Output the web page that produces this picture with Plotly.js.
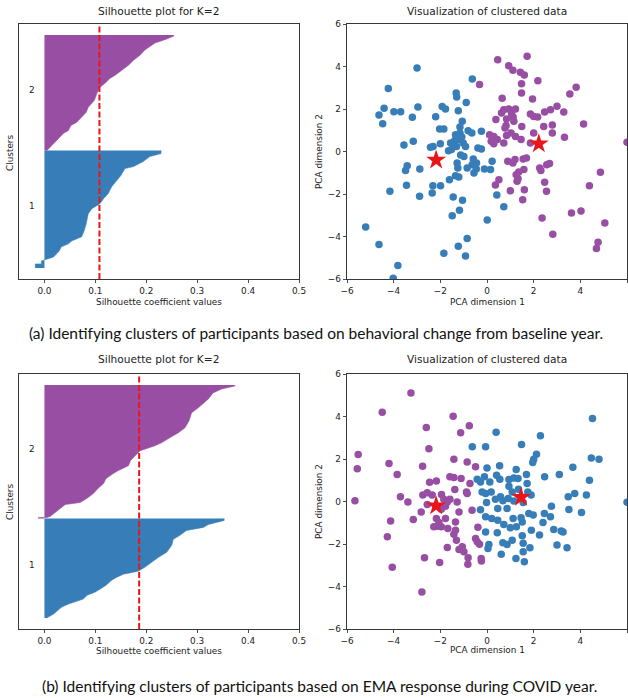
<!DOCTYPE html>
<html>
<head>
<meta charset="utf-8">
<script src="https://cdn.plot.ly/plotly-3.0.1.min.js"></script>
<style>html,body{margin:0;padding:0;background:#fff;}#chart{width:628px;height:698px;}</style>
</head>
<body>
<div id="chart"></div>
<script>
// ---------- Data: panel (a) ----------
// silhouette profiles (sorted): rank within cluster, silhouette value
const silA1_rank  = [0,4,4,7,8,10,11,17,21,24,27,31,37,44,54,59,64,69,74,81,86,92,99,101,106,111,114];
const silA1_value = [-0.018,-0.018,-0.006,-0.006,0.0,0.012,0.018,0.029,0.033,0.047,0.054,0.073,0.078,0.082,0.086,0.093,0.109,0.116,0.125,0.132,0.140,0.150,0.158,0.175,0.194,0.207,0.229];
const silA1_size = 117;
const silA2_rank  = [0,3,8,13,17,20,25,28,33,38,43,50,57,63,67,72,75,80,85,90,95,100,107,111,114];
const silA2_value = [0.005,0.011,0.021,0.029,0.037,0.047,0.052,0.063,0.073,0.082,0.086,0.098,0.103,0.109,0.119,0.129,0.139,0.152,0.165,0.175,0.188,0.197,0.217,0.240,0.254];
const silA2_size = 115;
const silA_avg = 0.108;

const blueA_x = [-3.0,-4.23,-0.63,-1.32,-1.3,-0.89,-4.41,-4.63,-3.99,-3.7,-4.47,-2.96,-3.2,-1.92,-1.78,-1.23,-2.2,-1.06,-2.03,-1.85,-1.16,-0.81,-0.65,-0.24,-1.16,-3.56,-3.16,-2.42,-2.31,-2.0,-1.56,-1.39,-1.31,-1.52,-1.65,-1.18,-1.02,-1.08,-1.35,-0.92,-0.39,-0.24,-1.13,-0.99,-0.59,-0.45,-0.64,-1.28,-1.25,-0.85,-0.46,-0.11,0.15,0.22,-0.56,-1.35,-1.21,-1.61,-3.42,-3.49,-2.88,-3.45,-2.32,-1.99,-2.35,-2.89,-4.16,-1.45,-1.05,-1.49,-1.18,0.42,0.72,0.01,-5.2,-4.63,-1.23,-0.85,-1.85,-0.92,-3.82,-4.02];
const blueA_y = [3.93,2.97,3.41,2.75,2.56,2.3,2.03,1.72,1.87,1.87,1.31,2.09,1.61,2.12,2.0,1.92,1.64,1.42,1.06,1.06,1.15,0.98,0.87,0.95,0.87,0.31,0.48,0.2,0.24,0.37,0.4,0.51,0.24,0.09,0.04,0.56,0.4,0.68,0.79,0.24,0.16,0.12,-0.16,-0.23,-0.35,-0.54,-0.62,-0.54,-0.78,-0.78,-0.82,-0.82,-0.85,-0.46,-1.01,-1.14,-1.2,-1.33,-0.67,-0.89,-0.82,-1.59,-1.61,-1.61,-1.95,-2.11,-1.87,-2.14,-2.3,-3.02,-2.77,-2.05,-2.6,-3.22,-3.55,-4.38,-4.46,-4.09,-4.79,-4.92,-5.37,-5.97];
const purpleA_x = [0.46,1.72,0.93,1.11,1.43,1.6,1.48,2.18,-0.32,1.48,3.82,3.55,0.65,1.95,3.0,2.72,2.47,3.29,0.62,0.72,0.93,1.22,1.05,1.12,1.86,2.0,2.17,0.38,0.84,1.15,0.82,0.77,1.49,2.43,2.8,4.14,1.03,1.22,0.84,2.0,2.8,3.32,0.11,0.29,0.44,0.18,0.29,0.72,1.46,1.86,6.0,0.89,1.11,1.55,1.2,1.69,1.58,2.26,2.31,2.56,2.68,1.25,1.36,1.33,0.51,0.36,1.29,2.47,1.6,1.0,2.55,1.53,2.36,3.62,4.03,4.39,4.86,5.05,4.76,4.69,2.82];
const purpleA_y = [4.32,4.48,4.04,3.82,3.73,3.6,3.19,3.33,3.15,2.75,3.02,2.7,2.5,2.47,2.13,1.97,1.86,1.86,1.81,1.97,2.0,2.0,1.77,1.62,1.77,1.65,1.62,1.5,1.53,1.42,1.22,1.1,1.18,1.18,1.25,1.29,0.87,0.71,0.75,0.87,0.87,0.67,0.79,0.71,0.56,0.48,0.37,0.4,0.56,0.4,0.43,-0.46,-0.54,-0.35,-0.38,-0.31,-0.85,-0.78,-0.89,-0.62,-0.57,-1.09,-0.97,-1.28,-1.33,-1.58,-1.4,-1.45,-1.8,-1.85,-1.87,-2.27,-3.13,-2.89,-2.8,-1.61,-0.98,-3.36,-4.27,-4.56,-3.9];
const centroidA_x = [-2.18, 2.22];
const centroidA_y = [-0.40, 0.37];

// ---------- Data: panel (b) ----------
const silB1_rank  = [0,1,4,8,11,14,17,19,23,26,29,33,38,41,44,47,51,56,61,66,73,79,83,88,91,94,98];
const silB1_value = [0.004,0.008,0.018,0.027,0.034,0.047,0.063,0.076,0.084,0.099,0.109,0.121,0.132,0.142,0.155,0.184,0.197,0.210,0.224,0.240,0.250,0.253,0.266,0.279,0.312,0.322,0.353];
const silB1_size = 100;
const silB2_rank  = [0,1,1,2,6,10,14,16,20,25,30,35,40,45,48,53,58,63,68,73,76,81,86,91,98,106,111,120,126,130,133];
const silB2_value = [-0.012,-0.012,0.005,0.011,0.021,0.031,0.041,0.070,0.083,0.096,0.105,0.116,0.121,0.135,0.145,0.165,0.169,0.178,0.188,0.217,0.230,0.246,0.263,0.276,0.284,0.289,0.302,0.322,0.331,0.348,0.374];
const silB2_size = 134;
const silB_avg = 0.186;

const blueB_x = [4.52,0.39,2.29,-0.63,-0.06,1.48,2.12,2.0,1.96,4.47,4.8,0.0,0.54,1.25,3.68,-0.42,-0.28,-0.11,0.12,0.41,0.55,0.94,1.15,1.33,1.69,1.72,2.47,3.1,4.39,0.94,1.08,1.35,1.75,1.89,-0.21,-0.06,0.18,-0.02,0.36,0.58,0.68,0.46,0.86,0.91,1.15,1.55,-0.28,-0.06,0.2,0.46,1.12,1.46,1.51,1.79,1.98,2.46,2.72,2.76,2.4,3.76,3.48,4.26,3.51,4.05,6.0,0.72,1.0,1.26,1.9,2.25,2.86,3.18,3.26,0.44,-0.06,0.08,0.04,0.68,0.86,1.08,1.55,1.55,1.84,0.61,1.24,1.6,3.0,3.43,1.51];
const blueB_y = [3.9,3.26,3.09,2.58,2.58,2.68,2.22,1.99,1.83,2.05,1.99,1.58,1.68,1.5,1.61,1.05,0.92,1.16,0.92,1.24,1.05,1.03,1.11,1.08,1.27,0.85,1.16,1.27,1.0,0.72,0.45,0.58,0.45,0.3,0.45,0.38,0.45,-0.05,0.11,0.22,0.03,-0.33,-0.33,0.14,0.02,-0.05,-0.39,-0.72,-0.8,-0.88,-0.8,-0.77,-0.96,-0.56,-0.64,-0.56,-0.72,-0.22,-0.99,0.38,0.22,0.3,-0.38,-0.52,-0.03,-1.08,-1.24,-1.19,-1.35,-1.58,-1.32,-1.39,-1.43,-1.47,-1.43,-2.02,-2.21,-1.94,-2.02,-1.82,-1.97,-2.37,-2.18,-2.48,-2.68,-2.84,-2.05,-2.18,-1.61];
const purpleB_x = [-3.26,-4.49,-1.45,-0.76,-2.6,-1.13,-2.49,-5.52,-5.56,-4.2,-3.85,-1.42,-0.85,-0.49,-2.76,-1.59,-1.42,-1.11,-2.46,-2.17,-0.73,-1.38,-0.88,-0.85,-5.66,-3.71,-2.75,-2.56,-2.35,-1.95,-1.85,-1.7,-1.59,-1.78,-1.96,-3.39,-2.82,-2.56,-1.28,-1.2,-0.64,-4.13,-3.16,-2.17,-2.14,-1.96,-2.06,-1.78,-1.68,-1.35,-1.35,-2.28,-0.39,-1.42,-1.31,-4.27,-0.49,-0.42,-0.32,-1.7,-1.06,-1.2,-0.99,-2.68,-2.03,-0.81,-0.82,-0.25,-0.24,-4.06,-2.79];
const purpleB_y = [5.11,4.2,4.01,3.56,3.48,3.23,2.48,2.21,1.54,1.79,1.27,1.99,1.86,1.63,1.66,1.16,1.13,1.08,0.91,0.96,0.85,0.56,0.45,0.38,0.03,0.22,0.3,0.41,0.3,0.33,0.11,-0.02,0.11,-0.22,-0.36,-0.02,-0.49,-0.14,-0.02,-0.49,-0.41,-0.92,-0.85,-0.8,-1.16,-1.19,-0.99,-0.8,-1.27,-1.35,-0.96,-1.19,-1.21,-1.54,-1.82,-1.66,-1.74,-1.9,-2.01,-2.16,-2.13,-2.26,-2.37,-2.65,-2.87,-2.65,-2.95,-2.68,-2.8,-3.09,-4.26];
const centroidB_x = [-2.18, 1.46];
const centroidB_y = [-0.20, 0.20];

const clusterLabels = ['1', '2'];
const silTicks = [0.0, 0.1, 0.2, 0.3, 0.4, 0.5];
const pcaTicks = [-6, -4, -2, 0, 2, 4, 6];

// ---------- Styling ----------
const BLUE = '#377eb8', PURPLE = '#984ea3', RED = '#e8161b';
const W = 628, H = 698;
const FONT = 'DejaVu Sans';
const px = v => v / W;
const py = v => 1 - v / H;
const GAP = 11;

function silTrace(rank, value, size, base, color, xa, ya) {
  const y = rank.map(r => base + r);
  const x = value.slice();
  y.push(base + size); x.push(value[value.length - 1]);
  return {type: 'scatter', mode: 'lines', x: x, y: y, xaxis: xa, yaxis: ya,
    line: {shape: 'linear', color: color, width: 0.6}, fill: 'tozerox', fillcolor: color,
    hoverinfo: 'skip'};
}
function pts(x, y, color, xa, ya) {
  return {type: 'scatter', mode: 'markers', x: x, y: y, xaxis: xa, yaxis: ya,
    marker: {color: color, size: 7.5, line: {width: 0}}};
}
function stars(x, y, xa, ya) {
  return {type: 'scatter', mode: 'markers', x: x, y: y, xaxis: xa, yaxis: ya,
    marker: {color: RED, size: 15, symbol: 'star', line: {width: 0}}};
}

const baseA1 = GAP, baseA2 = GAP + silA1_size, topA = baseA2 + silA2_size + GAP;
const baseB1 = GAP, baseB2 = GAP + silB1_size, topB = baseB2 + silB2_size + GAP;

const traces = [
  silTrace(silA1_rank, silA1_value, silA1_size, baseA1, BLUE, 'x', 'y'),
  silTrace(silA2_rank, silA2_value, silA2_size, baseA2, PURPLE, 'x', 'y'),
  pts(blueA_x, blueA_y, BLUE, 'x2', 'y2'),
  pts(purpleA_x, purpleA_y, PURPLE, 'x2', 'y2'),
  stars(centroidA_x, centroidA_y, 'x2', 'y2'),
  silTrace(silB1_rank, silB1_value, silB1_size, baseB1, BLUE, 'x3', 'y3'),
  silTrace(silB2_rank, silB2_value, silB2_size, baseB2, PURPLE, 'x3', 'y3'),
  pts(blueB_x, blueB_y, BLUE, 'x4', 'y4'),
  pts(purpleB_x, purpleB_y, PURPLE, 'x4', 'y4'),
  stars(centroidB_x, centroidB_y, 'x4', 'y4')
];

const tickFont = {family: FONT, size: 8.9, color: '#222'};
const axBase = {showline: true, mirror: true, linecolor: '#222', linewidth: 0.9,
  ticks: 'outside', ticklen: 3.5, tickwidth: 0.8, tickcolor: '#222',
  showgrid: false, zeroline: false, tickfont: tickFont, fixedrange: true};

const dxL = [px(19), px(299)], dxR = [px(347), px(627)];
const dyA = [py(279), py(24)], dyB = [py(629), py(374)];

function silX(domain, anchor) {
  return Object.assign({}, axBase, {domain: domain, anchor: anchor, range: [-0.05, 0.5],
    tickvals: silTicks, tickformat: '.1f'});
}
function silY(domain, anchor, top) {
  return Object.assign({}, axBase, {domain: domain, anchor: anchor, range: [0, top],
    ticks: '', showticklabels: false});
}
function pcaAx(domain, anchor) {
  return Object.assign({}, axBase, {domain: domain, anchor: anchor, range: [-6, 6],
    tickvals: pcaTicks});
}

const tf = (size) => ({family: FONT, size: size, color: '#222'});
function note(text, x, y, size, rot) {
  return {text: text, x: x, y: y, xref: 'paper', yref: 'paper', showarrow: false,
    xanchor: 'center', yanchor: 'middle', font: tf(size), textangle: rot || 0};
}
const capFont = {family: 'Lato', size: 15.5, color: '#111'};

const annotations = [
  note('Silhouette plot for K=2', px(158), py(11), 10.6),
  note('Visualization of clustered data', px(487), py(11), 10.6),
  note('Silhouette coefficient values', px(159), py(302), 8.9),
  note('PCA dimension 1', px(487), py(302), 8.9),
  note('Clusters', px(10), py(153), 8.9, -90),
  note('PCA dimension 2', px(319), py(152), 8.9, -90),
  note('Silhouette plot for K=2', px(158), py(359), 10.6),
  note('Visualization of clustered data', px(487), py(359), 10.6),
  note('Silhouette coefficient values', px(159), py(651), 8.9),
  note('PCA dimension 1', px(487), py(650), 8.9),
  note('Clusters', px(10), py(502), 8.9, -90),
  note('PCA dimension 2', px(319), py(502), 8.9, -90),
  {text: clusterLabels[0], x: -0.025, y: baseA1 + silA1_size / 2 + 3, xref: 'x', yref: 'y', showarrow: false, font: tf(8.9)},
  {text: clusterLabels[1], x: -0.025, y: baseA2 + silA2_size / 2 + 3, xref: 'x', yref: 'y', showarrow: false, font: tf(8.9)},
  {text: clusterLabels[0], x: -0.025, y: baseB1 + silB1_size / 2 + 3, xref: 'x3', yref: 'y3', showarrow: false, font: tf(8.9)},
  {text: clusterLabels[1], x: -0.025, y: baseB2 + silB2_size / 2 + 3, xref: 'x3', yref: 'y3', showarrow: false, font: tf(8.9)},
  {text: '(a) Identifying clusters of participants based on behavioral change from baseline year.',
    x: px(316), y: py(333), xref: 'paper', yref: 'paper', showarrow: false, xanchor: 'center', yanchor: 'middle', font: capFont},
  {text: '(b) Identifying clusters of participants based on EMA response during COVID year.',
    x: px(319), y: py(686), xref: 'paper', yref: 'paper', showarrow: false, xanchor: 'center', yanchor: 'middle', font: capFont}
];

const shapes = [
  {type: 'line', xref: 'x', yref: 'y domain', x0: silA_avg, x1: silA_avg, y0: 0, y1: 1,
    line: {color: RED, width: 2, dash: '6px,2.5px'}},
  {type: 'line', xref: 'x3', yref: 'y3 domain', x0: silB_avg, x1: silB_avg, y0: 0, y1: 1,
    line: {color: RED, width: 2, dash: '6px,2.5px'}}
];

const layout = {
  width: W, height: H, margin: {l: 0, r: 0, t: 0, b: 0},
  paper_bgcolor: '#fff', plot_bgcolor: '#fff', showlegend: false,
  font: {family: FONT},
  xaxis: silX(dxL, 'y'), yaxis: silY(dyA, 'x', topA),
  xaxis2: pcaAx(dxR, 'y2'), yaxis2: pcaAx(dyA, 'x2'),
  xaxis3: silX(dxL, 'y3'), yaxis3: silY(dyB, 'x3', topB),
  xaxis4: pcaAx(dxR, 'y4'), yaxis4: pcaAx(dyB, 'x4'),
  annotations: annotations, shapes: shapes
};

Plotly.newPlot('chart', traces, layout, {staticPlot: true, displayModeBar: false});
</script>
</body>
</html>
